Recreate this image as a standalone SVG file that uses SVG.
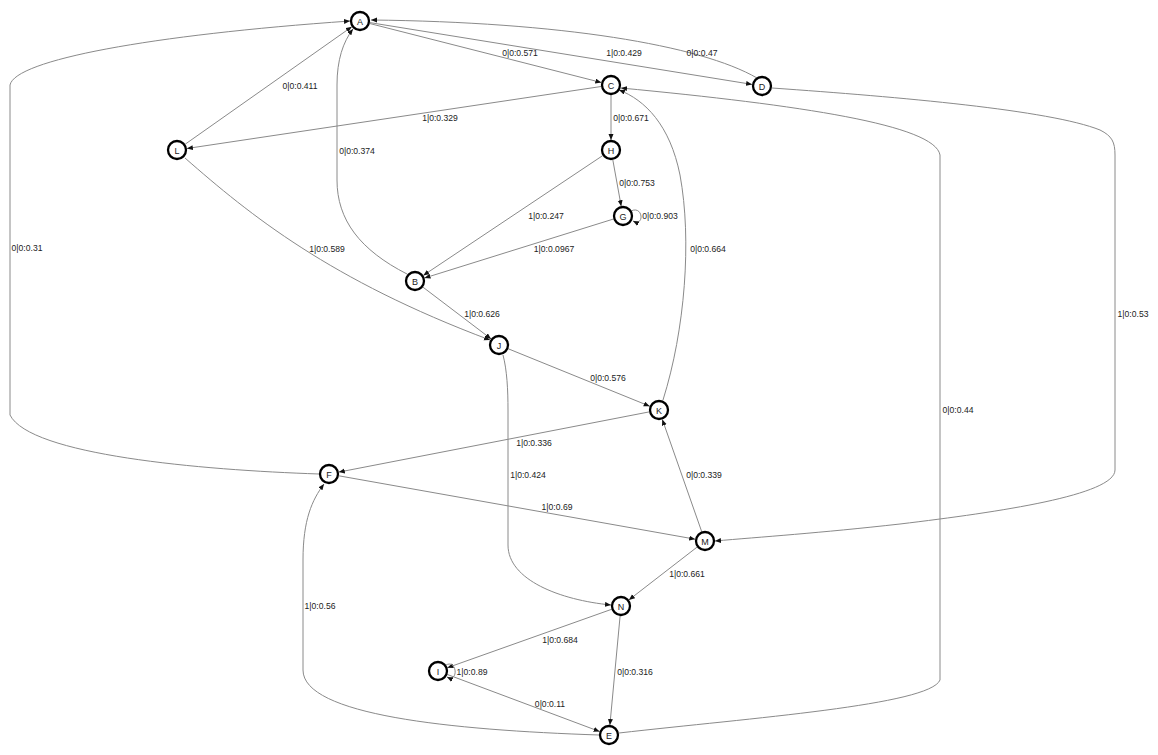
<svg xmlns="http://www.w3.org/2000/svg" width="1158" height="755" viewBox="0 0 1158 755">
<defs>
<marker id="arr" markerUnits="userSpaceOnUse" markerWidth="8" markerHeight="6" refX="6" refY="2.5" orient="auto">
<path d="M0,0 L6,2.5 L0,5 z" fill="#111"/>
</marker>
<style>
.e{fill:none;stroke:#8a8a8a;stroke-width:1;marker-end:url(#arr)}
.n circle{fill:#fff;stroke:#000;stroke-width:2.3}
.n text{font-family:"Liberation Sans",Arial,sans-serif;font-size:9px;text-anchor:middle;fill:#222}
.l{font-family:"Liberation Sans",Arial,sans-serif;font-size:8.6px;text-anchor:middle;fill:#222}
</style>
</defs>
<rect width="1158" height="755" fill="#fff"/>
<g id="connectors">
<path class="e" d="M369.7,23.5 L601.3,82.5"/>
<path class="e" d="M369.9,22.6 L752.1,84.4"/>
<path class="e" d="M757,78 C700,45 560,22 371,20"/>
<path class="e" d="M185.2,144.2 L351.8,26.8"/>
<path class="e" d="M601.1,86.5 L186.9,148.5"/>
<path class="e" d="M611,95 L611,140"/>
<path class="e" d="M612.8,159.8 L621.2,206.2"/>
<path class="e" d="M602.7,155.6 L423.3,275.4"/>
<path class="e" d="M631,211 C643,205 645,227 633,221"/>
<path class="e" d="M613.5,219 L424.5,278"/>
<path class="e" d="M407,274 C360,250 337,220 337,180 L337,85 C337,60 343,42 353,29"/>
<path class="e" d="M422.9,287.1 L491.1,338.9"/>
<path class="e" d="M185,158 C250,215 330,280 490,340"/>
<path class="e" d="M508.3,348.8 L649.7,406.2"/>
<path class="e" d="M503,355 C507,370 508,390 508,410 L508,545 C508,580 560,600 611,605"/>
<path class="e" d="M663,400 C685,330 692,240 680,175 C670,125 645,100 619,90"/>
<path class="e" d="M649.2,411.9 L338.8,472.1"/>
<path class="e" d="M319,474 C200,470 30,455 10,415 L10,85 C15,60 150,35 350,21"/>
<path class="e" d="M338.8,475.8 L695.2,539.2"/>
<path class="e" d="M701.7,531.6 L662.3,419.4"/>
<path class="e" d="M772,88 C900,97 1050,110 1100,130 C1112,136 1115,142 1115,155 L1115,470 C1115,495 1000,512 900,524 C820,533 760,537 715,541"/>
<path class="e" d="M697.1,547.1 L628.9,599.9"/>
<path class="e" d="M611.6,609.3 L447.4,667.7"/>
<path class="e" d="M620.1,616 L609.9,725"/>
<path class="e" d="M446,665 C457,659 459,683 447,677"/>
<path class="e" d="M447.4,674.5 L599.6,731.5"/>
<path class="e" d="M599,735 C450,730 303,715 303,670 L303,560 C303,520 312,500 324,484"/>
<path class="e" d="M619,733 C750,718 930,705 940,680 L940,155 C935,125 800,105 621,88"/>
</g>
<g id="labels">
<text class="l" x="520" y="56">0|0:0.571</text>
<text class="l" x="624" y="56">1|0:0.429</text>
<text class="l" x="702" y="56">0|0:0.47</text>
<text class="l" x="300" y="89">0|0:0.411</text>
<text class="l" x="440" y="121">1|0:0.329</text>
<text class="l" x="357" y="154">0|0:0.374</text>
<text class="l" x="631" y="121">0|0:0.671</text>
<text class="l" x="637" y="186">0|0:0.753</text>
<text class="l" x="546" y="219">1|0:0.247</text>
<text class="l" x="660" y="219">0|0:0.903</text>
<text class="l" x="554" y="252">1|0:0.0967</text>
<text class="l" x="327" y="252">1|0:0.589</text>
<text class="l" x="482" y="317">1|0:0.626</text>
<text class="l" x="608" y="381">0|0:0.576</text>
<text class="l" x="708" y="252">0|0:0.664</text>
<text class="l" x="534" y="446">1|0:0.336</text>
<text class="l" x="528" y="478">1|0:0.424</text>
<text class="l" x="704" y="478">0|0:0.339</text>
<text class="l" x="557" y="510">1|0:0.69</text>
<text class="l" x="687" y="577">1|0:0.661</text>
<text class="l" x="320" y="609">1|0:0.56</text>
<text class="l" x="560" y="643">1|0:0.684</text>
<text class="l" x="472" y="675">1|0:0.89</text>
<text class="l" x="635" y="675">0|0:0.316</text>
<text class="l" x="550" y="707">0|0:0.11</text>
<text class="l" x="27" y="251">0|0:0.31</text>
<text class="l" x="1133" y="317">1|0:0.53</text>
<text class="l" x="958" y="413">0|0:0.44</text>
</g>
<g id="A" class="n"><circle cx="360" cy="21" r="9"/><text x="360" y="24.5">A</text></g>
<g id="C" class="n"><circle cx="611" cy="85" r="9"/><text x="611" y="88.5">C</text></g>
<g id="D" class="n"><circle cx="762" cy="86" r="9"/><text x="762" y="89.5">D</text></g>
<g id="L" class="n"><circle cx="177" cy="150" r="9"/><text x="177" y="153.5">L</text></g>
<g id="H" class="n"><circle cx="611" cy="150" r="9"/><text x="611" y="153.5">H</text></g>
<g id="G" class="n"><circle cx="623" cy="216" r="9"/><text x="623" y="219.5">G</text></g>
<g id="B" class="n"><circle cx="415" cy="281" r="9"/><text x="415" y="284.5">B</text></g>
<g id="J" class="n"><circle cx="499" cy="345" r="9"/><text x="499" y="348.5">J</text></g>
<g id="K" class="n"><circle cx="659" cy="410" r="9"/><text x="659" y="413.5">K</text></g>
<g id="F" class="n"><circle cx="329" cy="474" r="9"/><text x="329" y="477.5">F</text></g>
<g id="M" class="n"><circle cx="705" cy="541" r="9"/><text x="705" y="544.5">M</text></g>
<g id="N" class="n"><circle cx="621" cy="606" r="9"/><text x="621" y="609.5">N</text></g>
<g id="I" class="n"><circle cx="438" cy="671" r="9"/><text x="438" y="674.5">I</text></g>
<g id="E" class="n"><circle cx="609" cy="735" r="9"/><text x="609" y="738.5">E</text></g>
</svg>
